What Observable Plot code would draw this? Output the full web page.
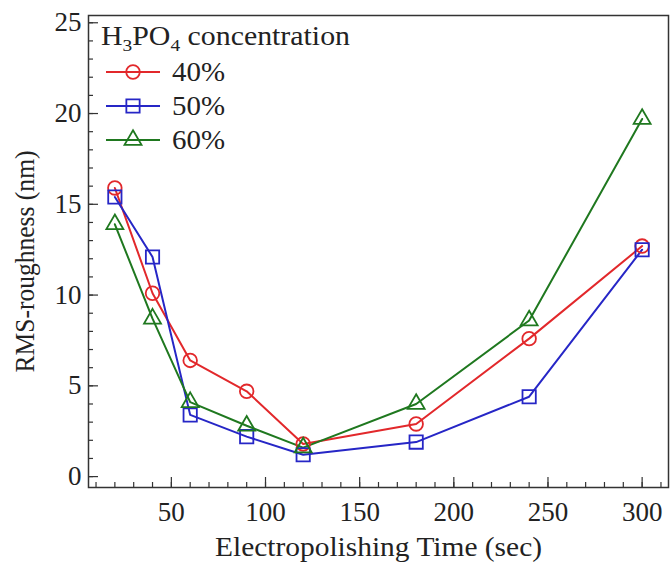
<!DOCTYPE html>
<html><head><meta charset="utf-8">
<script src="https://cdn.jsdelivr.net/npm/d3@7"></script>
<script src="https://cdn.jsdelivr.net/npm/@observablehq/plot@0.6"></script>
<style>
body{margin:0;background:#fff;}
#chart svg, #chart svg text{font-family:"Liberation Serif","Times New Roman",serif !important;}
</style>
</head><body><div id="chart"></div>
<script>
const times = [20, 40, 60, 90, 120, 180, 240, 300];
const seriesNames = ["40%", "50%", "60%"];
const rough40 = [15.9, 10.1, 6.4, 4.7, 1.8, 2.9, 7.6, 12.7];
const rough50 = [15.4, 12.1, 3.4, 2.2, 1.2, 1.9, 4.4, 12.5];
const rough60 = [13.9, 8.7, 4.1, 2.8, 1.6, 4.0, 8.6, 19.7];
const seriesColors = ["#e2282b", "#2626c6", "#1f781f"];
const seriesSymbols = ["circle", "square", "triangle"];
const seriesR = [6.8, 7.5, 6.3];
const xMajor = [50, 100, 150, 200, 250, 300];
const xMinor = d3.range(10, 311, 10);
const yMajor = [0, 5, 10, 15, 20, 25];
const yMinor = d3.range(0, 26, 1);
const xLabel = "Electropolishing Time (sec)";
const yLabel = "RMS-roughness (nm)";

const W = 671, H = 568;
const mL = 88, mT = 15, mR = 3, mB = 81;
const innerW = W - mL - mR, innerH = H - mT - mB;
const FS = 27;
const FF = "Liberation Serif";

const values = [rough40, rough50, rough60];
const data = [];
seriesNames.forEach((s, i) => times.forEach((t, j) => data.push({series: s, time: t, rms: values[i][j]})));

const marks = [
  Plot.tickX(xMinor, {x: d => d, insetTop: innerH - 5, stroke: "#333", strokeWidth: 1.2}),
  Plot.tickX(xMajor, {x: d => d, insetTop: innerH - 10, stroke: "#333", strokeWidth: 1.2}),
  Plot.tickY(yMinor, {y: d => d, insetRight: innerW - 5, stroke: "#333", strokeWidth: 1.2}),
  Plot.tickY(yMajor, {y: d => d, insetRight: innerW - 10, stroke: "#333", strokeWidth: 1.2}),
  Plot.axisX(xMajor, {tickSize: 0, tickPadding: 14, fontSize: FS, fontFamily: FF, fill: "#222", label: null}),
  Plot.axisY(yMajor, {tickSize: 0, tickPadding: 7, fontSize: FS, fontFamily: FF, fill: "#222", label: null}),
  Plot.line(data, {x: "time", y: "rms", stroke: "series", z: "series", strokeWidth: 2}),
];
seriesNames.forEach((s, i) => {
  marks.push(Plot.dot(data.filter(d => d.series === s), {
    x: "time", y: "rms", stroke: "series", symbol: "series", r: seriesR[i], fill: "none", strokeWidth: 1.8
  }));
});
marks.push(
  Plot.frame({stroke: "#333", strokeWidth: 1.5}),
  Plot.text([xLabel], {text: d => d, frameAnchor: "bottom", dy: 68, fontSize: FS, fontFamily: FF, fill: "#222", textAnchor: "middle"}),
  Plot.text([yLabel], {text: d => d, frameAnchor: "left", dx: -63, dy: 10, rotate: -90, fontSize: FS, fontFamily: FF, fill: "#222", textAnchor: "middle"})
);

const chart = Plot.plot({
  width: W, height: H,
  marginLeft: mL, marginTop: mT, marginRight: mR, marginBottom: mB,
  x: {domain: [6, 314], axis: null},
  y: {domain: [-0.6, 25.4], axis: null},
  color: {domain: seriesNames, range: seriesColors},
  symbol: {domain: seriesNames, range: seriesSymbols},
  style: {fontFamily: FF, background: "#fff"},
  marks
});
document.getElementById("chart").appendChild(chart);

const svg = d3.select(chart);
// match the reference's wider lettering for the axis titles
svg.selectAll("text").filter(function() { return this.textContent === xLabel; })
  .attr("textLength", 327).attr("lengthAdjust", "spacingAndGlyphs");
svg.selectAll("text").filter(function() { return this.textContent === yLabel; })
  .attr("textLength", 222).attr("lengthAdjust", "spacingAndGlyphs");

// legend (layout only)
const lg = svg.append("g").attr("font-family", FF).attr("font-size", FS).attr("fill", "#222").attr("text-anchor", "start");
const title = lg.append("text").attr("x", 101).attr("y", 45)
  .attr("textLength", 249).attr("lengthAdjust", "spacingAndGlyphs");
title.append("tspan").text("H");
title.append("tspan").attr("font-size", FS * 0.65).attr("dy", 6).text("3");
title.append("tspan").attr("dy", -6).text("PO");
title.append("tspan").attr("font-size", FS * 0.65).attr("dy", 6).text("4");
title.append("tspan").attr("dy", -6).text(" concentration");
const rowY = [72, 106, 140];
seriesNames.forEach((s, i) => {
  const g = lg.append("g").attr("transform", `translate(0,${rowY[i]})`);
  g.append("line").attr("x1", 106).attr("x2", 160).attr("stroke", seriesColors[i]).attr("stroke-width", 2);
  const sym = {circle: d3.symbolCircle, square: d3.symbolSquare, triangle: d3.symbolTriangle}[seriesSymbols[i]];
  g.append("path").attr("transform", "translate(133,0)")
    .attr("d", d3.symbol(sym, Math.PI * seriesR[i] * seriesR[i])())
    .attr("fill", "none").attr("stroke", seriesColors[i]).attr("stroke-width", 1.8);
  g.append("text").attr("x", 172).attr("dy", "0.35em").attr("textLength", 53).attr("lengthAdjust", "spacingAndGlyphs").text(s);
});
</script>
</body></html>
